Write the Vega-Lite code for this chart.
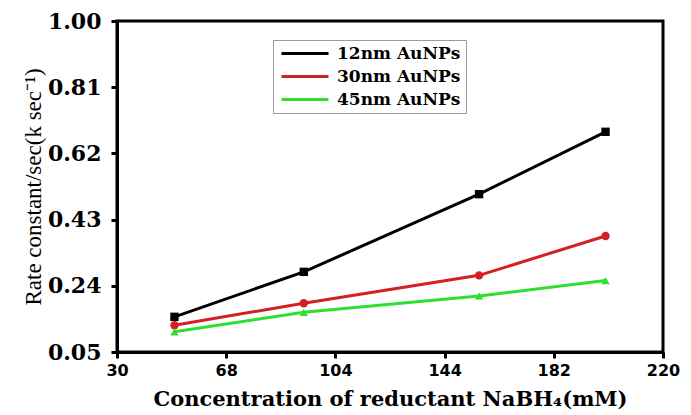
{
  "$schema": "https://vega.github.io/schema/vega-lite/v6.json",
  "autosize": "none",
  "width": 546,
  "height": 331,
  "padding": {"left": 117, "top": 21, "right": 28, "bottom": 63},
  "background": "white",
  "config": {
    "view": {"stroke": "black", "strokeWidth": 3},
    "axis": {"grid": false, "domainColor": "black", "domainWidth": 3, "tickColor": "black", "tickWidth": 3, "tickSize": 6, "labelColor": "black", "titleColor": "black"},
    "legend": {"strokeWidth": 1}
  },
  "data": {
    "values": [
      {"series": "12nm AuNPs", "conc": 50, "k": 0.151},
      {"series": "12nm AuNPs", "conc": 95, "k": 0.280},
      {"series": "12nm AuNPs", "conc": 156, "k": 0.503},
      {"series": "12nm AuNPs", "conc": 200, "k": 0.682},
      {"series": "30nm AuNPs", "conc": 50, "k": 0.127},
      {"series": "30nm AuNPs", "conc": 95, "k": 0.190},
      {"series": "30nm AuNPs", "conc": 156, "k": 0.270},
      {"series": "30nm AuNPs", "conc": 200, "k": 0.383},
      {"series": "45nm AuNPs", "conc": 50, "k": 0.108},
      {"series": "45nm AuNPs", "conc": 95, "k": 0.164},
      {"series": "45nm AuNPs", "conc": 156, "k": 0.211},
      {"series": "45nm AuNPs", "conc": 200, "k": 0.255}
    ]
  },
  "encoding": {
    "x": {
      "field": "conc", "type": "quantitative",
      "scale": {"domain": [30, 220], "nice": false, "zero": false},
      "axis": {
        "values": [30, 68, 106, 144, 182, 220],
        "labelExpr": "datum.value == 106 ? '104' : datum.label",
        "labelFont": "DejaVu Sans", "labelFontWeight": "bold", "labelFontSize": 16, "labelPadding": 4, "labelFlush": false,
        "title": "Concentration of reductant NaBH₄(mM)",
        "titleFont": "DejaVu Serif", "titleFontWeight": "bold", "titleFontSize": 21, "titlePadding": 10
      }
    },
    "y": {
      "field": "k", "type": "quantitative",
      "scale": {"domain": [0.05, 1.0], "nice": false, "zero": false},
      "axis": {
        "values": [0.05, 0.24, 0.43, 0.62, 0.81, 1.0],
        "format": ".2f",
        "labelFont": "DejaVu Serif", "labelFontWeight": "bold", "labelFontSize": 22, "labelPadding": 10, "labelFlush": false,
        "title": "Rate constant/sec(k sec⁻¹)",
        "titleFont": "Liberation Serif", "titleFontWeight": "normal", "titleFontSize": 23, "titlePadding": 2
      }
    },
    "color": {"field": "series", "type": "nominal", "legend": null}
  },
  "layer": [
    {
      "mark": {"type": "line", "strokeWidth": 3},
      "encoding": {
        "color": {
          "field": "series", "type": "nominal",
          "scale": {"domain": ["12nm AuNPs", "30nm AuNPs", "45nm AuNPs"], "range": ["#000000", "#d42020", "#2ee02e"]},
          "legend": {
            "orient": "none", "legendX": 156, "legendY": 19,
            "title": null,
            "strokeColor": "#9a9a9a", "fillColor": "white", "padding": 5,
            "symbolType": "M-1,0H8.4", "symbolSize": 100, "symbolStrokeWidth": 3,
            "labelFont": "DejaVu Serif", "labelFontWeight": "bold", "labelFontSize": 17, "labelColor": "black",
            "labelOffset": 42, "rowPadding": 5
          }
        }
      }
    },
    {
      "transform": [{"filter": "datum.series === '12nm AuNPs'"}],
      "mark": {"type": "point", "shape": "square", "filled": true, "size": 70, "opacity": 1}
    },
    {
      "transform": [{"filter": "datum.series === '30nm AuNPs'"}],
      "mark": {"type": "point", "shape": "circle", "filled": true, "size": 70, "opacity": 1}
    },
    {
      "transform": [{"filter": "datum.series === '45nm AuNPs'"}],
      "mark": {"type": "point", "shape": "triangle-up", "filled": true, "size": 70, "opacity": 1}
    }
  ]
}
